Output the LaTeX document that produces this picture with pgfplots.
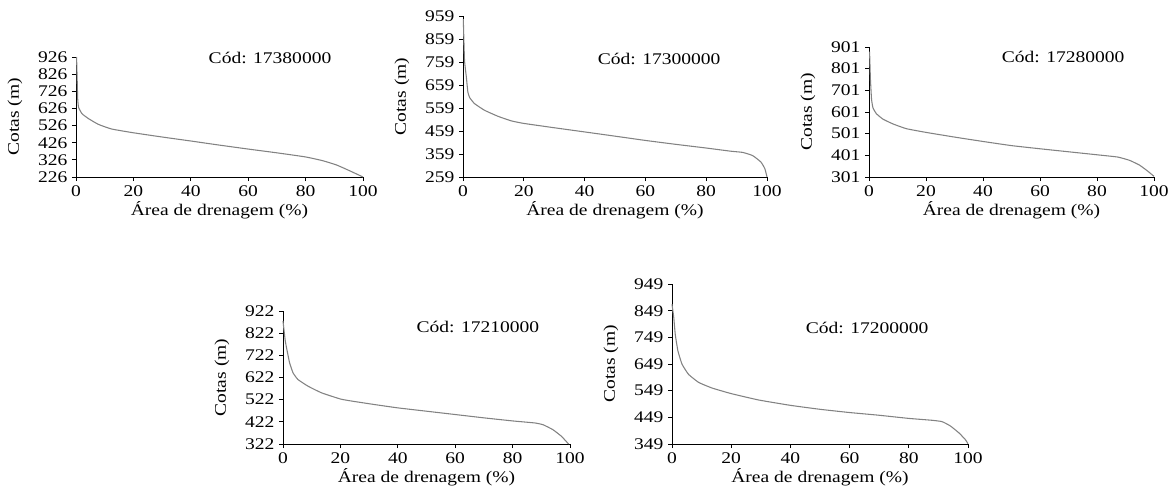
\documentclass[border=0pt]{standalone}
\usepackage{fontspec}
\setmainfont[FakeStretch=1.2]{Liberation Serif}
\usepackage{pgfplots}
\pgfplotsset{compat=1.18}
\usetikzlibrary{calc}
\definecolor{curvegray}{RGB}{130,130,130}

\newcommand{\chartfont}{\fontsize{12.2}{14}\selectfont}

\pgfplotsset{
  hypso/.style={
    scale only axis,
    anchor=south west,
    axis x line*=bottom,
    axis y line*=left,
    tick pos=left,
    tick align=outside,
    major tick length=3pt,
    axis line style={black, line width=0.7pt},
    every tick/.style={black, line width=0.7pt},
    xmin=0, xmax=100,
    xtick={0,20,40,60,80,100},
    clip=false,
    /pgf/number format/assume math mode=true,
    tick label style={font=\chartfont},
    xlabel={Área de drenagem (\%)},
    ylabel={Cotas (m)},
    every axis x label/.style={at={($(axis description cs:0.5,0)+(0,-24.75pt)$)}, anchor=center, font=\chartfont},
    every axis y label/.style={at={($(axis description cs:0,0.5)+(-45.75pt,0)$)}, anchor=center, rotate=90, font=\chartfont},
  },
  curve/.style={curvegray, line width=0.8pt, smooth, tension=0.25, no marks},
}

\begin{document}
\begin{tikzpicture}
\path[use as bounding box] (0,0) rectangle (881.25pt,-369.75pt);

% 17380000
\begin{axis}[hypso, at={(57pt,-132.75pt)}, width=215.25pt, height=90pt,
  ymin=226, ymax=926, ytick={226,326,426,526,626,726,826,926}]
  \addplot[curve] coordinates {
    (0.2,926) (0.4,800) (0.6,680) (0.9,632) (2.1,595) (4.4,566) (7.8,533)
    (12.4,506) (20,484) (29.7,460) (40,436) (50,412) (60,389) (70,367)
    (80,343) (86,321) (90.8,296) (95.4,262) (100,226)
  };
  \node[font=\chartfont] at (rel axis cs:0.676,0.99) {Cód: 17380000};
\end{axis}

% 17300000
\begin{axis}[hypso, at={(347.25pt,-132.75pt)}, width=228pt, height=120.75pt,
  ymin=259, ymax=959, ytick={259,359,459,559,659,759,859,959}]
  \addplot[curve] coordinates {
    (0.1,945) (0.5,766) (1.1,694) (1.6,628) (2.2,604) (3.8,578) (7.1,549)
    (11.5,523) (15.9,503) (20,492) (30.1,473) (40,455) (49.8,437) (60,418)
    (70,401) (80,385) (88.2,371) (92,366) (95.3,352) (98,324) (99.3,295) (100,259)
  };
  \node[font=\chartfont] at (rel axis cs:0.645,0.733) {Cód: 17300000};
\end{axis}

% 17280000
\begin{axis}[hypso, at={(651.75pt,-132.75pt)}, width=213.75pt, height=97.5pt,
  ymin=301, ymax=901, ytick={301,401,501,601,701,801,901}]
  \addplot[curve] coordinates {
    (0.2,880) (0.5,753) (0.9,659) (1.4,620) (2.6,593) (4.9,568) (8.4,546)
    (13.1,524) (20.4,506) (30.6,484) (40,465) (49.9,446) (60.2,431)
    (70.3,417) (80.4,403) (87.3,393) (91.4,378) (94.9,356) (97.8,328) (100,304)
  };
  \node[font=\chartfont] at (rel axis cs:0.681,0.923) {Cód: 17280000};
\end{axis}

% 17210000
\begin{axis}[hypso, at={(212.25pt,-333pt)}, width=215.25pt, height=99.75pt,
  ymin=322, ymax=922, ytick={322,422,522,622,722,822,922}]
  \addplot[curve] coordinates {
    (0,877) (0.8,786) (1.7,726) (2.3,688) (3.5,643) (5.2,613) (8.7,583)
    (13.4,553) (20,525) (23.8,516) (31.9,500) (40,485) (50,470) (60,455)
    (70,440) (80.1,426) (87.7,417) (90.6,409) (94,387) (97,357) (99.5,322)
  };
  \node[font=\chartfont] at (rel axis cs:0.679,0.88) {Cód: 17210000};
\end{axis}

% 17200000
\begin{axis}[hypso, at={(504pt,-333pt)}, width=222pt, height=120pt,
  ymin=349, ymax=949, ytick={349,449,549,649,749,849,949}]
  \addplot[curve] coordinates {
    (0,873) (0.6,823) (1.1,760) (2,698) (3.4,648) (5.6,610) (9,580)
    (13.5,559) (20,538) (29.3,514) (40,494) (50.1,479) (60,467) (69.8,457)
    (80,445) (87.8,438) (91.2,433) (94,417) (96.8,392) (99,367) (100,350)
  };
  \node[font=\chartfont] at (rel axis cs:0.659,0.725) {Cód: 17200000};
\end{axis}
\end{tikzpicture}
\end{document}
